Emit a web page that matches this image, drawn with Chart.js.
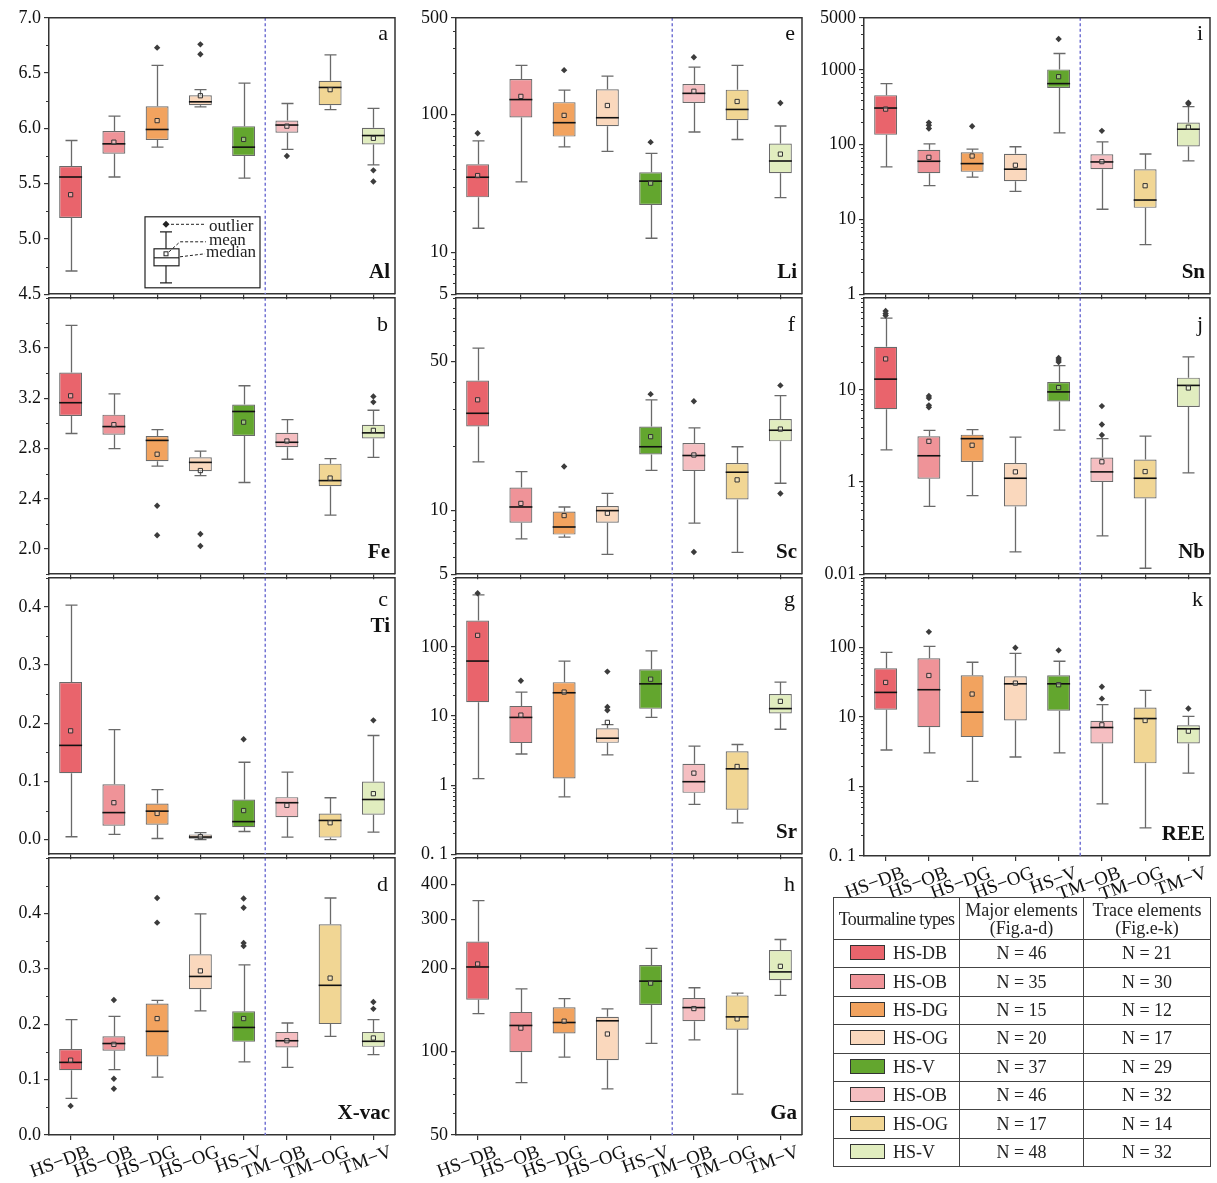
<!DOCTYPE html>
<html>
<head>
<meta charset="utf-8">
<title>Tourmaline box plots</title>
<script src="https://cdn.jsdelivr.net/npm/chart.js@4.4.1/dist/chart.umd.min.js"></script>
<style>
  body { margin: 0; background: #fff; }
  #page { position: relative; width: 1217px; height: 1183px; overflow: hidden; background: #fff; }
  #page canvas { position: absolute; }
  #types { position: absolute; left: 833px; top: 897px; width: 377px; border-collapse: collapse;
           font-family: 'Liberation Serif', serif; font-size: 18px; color: #222; table-layout: fixed; }
  #types td, #types th { border: 1px solid #444; padding: 0; text-align: center; font-weight: normal; }
  #types th { height: 41px; line-height: 18px; font-size: 18px; }
  #types td { height: 27.4px; }
  #types td.type { text-align: left; padding-left: 16px; }
  .sw { display: inline-block; width: 33px; height: 13px; border: 1px solid #333; vertical-align: -1px; margin-right: 8px; }
</style>
</head>
<body>
<div id="page"></div>
<script>
// categories and colours
const categories = ['HS−DB', 'HS−OB', 'HS−DG', 'HS−OG', 'HS−V', 'TM−OB', 'TM−OG', 'TM−V'];
const boxColors = ['#e9646c', '#ef9398', '#f2a35f', '#fad8bd', '#63a62e', '#f5bec1', '#f1d694', '#e1edbf'];

// each box row: [whisker low, Q1, median, Q3, whisker high]
const alBox = [[4.71, 5.19, 5.56, 5.66, 5.89], [5.56, 5.77, 5.86, 5.975, 6.11], [5.83, 5.895, 5.99, 6.20, 6.57],
  [6.195, 6.21, 6.24, 6.30, 6.35], [5.55, 5.75, 5.83, 6.02, 6.41], [5.81, 5.96, 6.03, 6.07, 6.225],
  [6.17, 6.21, 6.37, 6.43, 6.665], [5.67, 5.855, 5.935, 6.005, 6.18]];
const alMean = [5.40, 5.875, 6.07, 6.295, 5.90, 6.02, 6.35, 5.91];
const alOut = [[2, 6.73], [3, 6.76], [3, 6.67], [5, 5.75], [7, 5.62], [7, 5.52]];

const feBox = [[2.92, 3.06, 3.165, 3.405, 3.78], [2.80, 2.91, 2.975, 3.07, 3.235], [2.66, 2.70, 2.865, 2.90, 2.95],
  [2.585, 2.62, 2.69, 2.73, 2.78], [2.53, 2.90, 3.095, 3.15, 3.30], [2.715, 2.81, 2.85, 2.925, 3.03],
  [2.27, 2.50, 2.545, 2.68, 2.72], [2.73, 2.88, 2.925, 2.99, 3.105]];
const feMean = [3.22, 2.99, 2.755, 2.625, 3.01, 2.86, 2.565, 2.945];
const feOut = [[2, 2.345], [2, 2.11], [3, 2.12], [3, 2.025], [7, 3.215], [7, 3.17]];

const tiBox = [[0.005, 0.114, 0.162, 0.271, 0.403], [0.009, 0.024, 0.0465, 0.095, 0.189], [0.002, 0.0255, 0.049, 0.062, 0.086],
  [0.0, 0.0015, 0.0045, 0.009, 0.012], [0.014, 0.0215, 0.031, 0.069, 0.133], [0.0045, 0.0385, 0.0635, 0.073, 0.116],
  [0.0, 0.0035, 0.033, 0.045, 0.072], [0.013, 0.043, 0.069, 0.10, 0.179]];
const tiMean = [0.187, 0.0635, 0.045, 0.005, 0.05, 0.059, 0.029, 0.079];
const tiOut = [[4, 0.1725], [7, 0.205]];

const xvBox = [[0.066, 0.117, 0.131, 0.155, 0.208], [0.118, 0.152, 0.165, 0.178, 0.214], [0.1045, 0.1415, 0.187, 0.237, 0.243],
  [0.224, 0.263, 0.286, 0.326, 0.399], [0.132, 0.168, 0.194, 0.223, 0.307], [0.122, 0.158, 0.17, 0.186, 0.202],
  [0.178, 0.20, 0.27, 0.38, 0.4275], [0.145, 0.159, 0.169, 0.186, 0.208]];
const xvMean = [0.135, 0.1635, 0.21, 0.296, 0.21, 0.17, 0.283, 0.175];
const xvOut = [[0, 0.0525], [1, 0.2435], [1, 0.1015], [1, 0.0835], [2, 0.4275], [2, 0.383],
  [4, 0.4265], [4, 0.41], [4, 0.3465], [4, 0.341], [7, 0.24], [7, 0.2275]];

const liBox = [[15.0, 25.1, 35.1, 43.6, 64.4], [32.5, 95, 128, 180, 226], [58.3, 69.1, 87.1, 122.6, 150],
  [54, 82, 94.6, 152, 189.5], [12.7, 22.1, 32.9, 38.1, 52.2], [74.6, 121, 142, 166, 220],
  [65.8, 90.6, 108.6, 151, 226], [25, 37.5, 46, 61.5, 82.4]];
const liMean = [36.1, 135, 98.4, 116, 31.8, 147, 124, 51.6];
const liOut = [[0, 73.1], [2, 209], [4, 63], [5, 259], [7, 121]];

const scBox = [[16.9, 24.8, 28.6, 40.8, 57.9], [7.34, 8.74, 10.36, 12.8, 15.2], [7.47, 7.68, 8.34, 9.86, 10.36],
  [6.2, 8.73, 9.96, 10.47, 12.0], [15.4, 18.3, 19.9, 24.8, 33.1], [8.7, 15.3, 18.1, 20.7, 24.4],
  [6.34, 11.25, 15.1, 16.7, 19.9], [13.4, 21.1, 23.8, 26.9, 34.6]];
const scMean = [33.1, 10.77, 9.44, 9.68, 22.2, 18.2, 13.9, 24.1];
const scOut = [[2, 16.06], [4, 35.2], [5, 32.6], [5, 6.36], [7, 38.7], [7, 12.0]];

const srBox = [[1.24, 15.8, 62.4, 241, 567], [2.82, 4.05, 9.54, 14.0, 22.2], [0.676, 1.25, 21.7, 30.9, 62.4],
  [2.73, 4.09, 4.77, 6.64, 7.49], [9.55, 12.7, 29.2, 47.4, 87.7], [0.526, 0.772, 1.12, 2.03, 3.67],
  [0.284, 0.44, 1.72, 3.08, 3.87], [6.43, 10.9, 12.8, 20.8, 30.9]];
const srMean = [147, 10.3, 22.2, 8.09, 34.1, 1.49, 1.86, 16.3];
const srOut = [[0, 599], [1, 32.3], [3, 43.9], [3, 13.5], [3, 12.1]];

const gaBox = [[137.1, 153.9, 201.9, 249.3, 350.5], [77.3, 99.4, 124.2, 139, 168.4], [95.4, 116.3, 127.3, 144.5, 155.2],
  [73.3, 93.1, 129.1, 133.4, 142.5], [107.1, 147.2, 179.5, 205.3, 235.5], [110.1, 128.7, 144.1, 156, 169.9],
  [70.2, 119.9, 133.4, 159.4, 162.5], [159.4, 181, 193.8, 232.3, 253.6]];
const gaMean = [207, 121.5, 128.7, 115.7, 176.5, 142.9, 131.2, 203];
const gaOut = [];

const snBox = [[50.5, 135.7, 310, 461, 658], [28.3, 41.6, 60.1, 85.8, 103], [36.8, 43.4, 55.9, 79.1, 87.6],
  [23.8, 32.6, 47.1, 75.9, 94], [144, 577, 658, 1020, 1663], [13.7, 47.1, 58.9, 74.4, 109.6],
  [4.61, 14.3, 18.2, 47.1, 75.2], [60.7, 95, 161.4, 198, 323]];
const snMean = [300, 67.9, 70.7, 53.2, 815, 59.5, 28.3, 171.6];
const snOut = [[1, 198], [1, 182], [1, 165], [2, 177], [4, 2606], [5, 153.4], [7, 365], [7, 354]];

const nbBox = [[2.24, 6.16, 13.1, 29.4, 60.1], [0.544, 1.086, 1.93, 3.14, 3.64], [0.714, 1.65, 2.96, 3.27, 3.7],
  [0.175, 0.544, 1.1, 1.61, 3.08], [3.67, 7.5, 9.52, 12.2, 18.4], [0.26, 1.0, 1.29, 1.85, 2.96],
  [0.116, 0.663, 1.1, 1.76, 3.16], [1.26, 6.52, 11.2, 13.6, 22.9]];
const nbMean = [21.7, 2.77, 2.51, 1.29, 10.6, 1.66, 1.3, 10.5];
const nbOut = [[0, 72], [0, 67.4], [0, 64.2], [1, 8.62], [1, 8.15], [1, 6.8], [1, 6.47],
  [4, 22.2], [4, 21.1], [4, 20.1], [5, 6.68], [5, 4.22], [5, 3.24]];

const reeBox = [[3.34, 12.7, 22.5, 50.1, 84.8], [3.03, 7.11, 24.6, 69.6, 103], [1.18, 5.12, 11.7, 39.8, 61.1],
  [2.65, 8.86, 29.9, 38.5, 82], [3.03, 12.3, 29.9, 39.8, 63.1], [0.56, 4.16, 7.04, 8.77, 15.0],
  [0.254, 2.15, 9.47, 13.6, 24.0], [1.55, 4.16, 6.74, 7.6, 10.2]];
const reeMean = [31.3, 39.4, 21.3, 30.6, 29, 7.69, 8.87, 6.24];
const reeOut = [[1, 167], [3, 98.9], [4, 90.6], [5, 27.1], [5, 18.3], [7, 13.2]];

// y tick values and labels
const alTicks = [4.5, 5.0, 5.5, 6.0, 6.5, 7.0], alLabels = ['4.5', '5.0', '5.5', '6.0', '6.5', '7.0'];
const feTicks = [2.0, 2.4, 2.8, 3.2, 3.6], feLabels = ['2.0', '2.4', '2.8', '3.2', '3.6'];
const tiTicks = [0, 0.1, 0.2, 0.3, 0.4], tiLabels = ['0.0', '0.1', '0.2', '0.3', '0.4'];
const xvTicks = [0, 0.1, 0.2, 0.3, 0.4], xvLabels = ['0.0', '0.1', '0.2', '0.3', '0.4'];
const liTicks = [5, 10, 100, 500], liLabels = ['5', '10', '100', '500'];
const scTicks = [5, 10, 50], scLabels = ['5', '10', '50'];
const srTicks = [0.1, 1, 10, 100], srLabels = ['0. 1', '1', '10', '100'];
const gaTicks = [50, 100, 200, 300, 400], gaLabels = ['50', '100', '200', '300', '400'];
const snTicks = [1, 10, 100, 1000, 5000], snLabels = ['1', '10', '100', '1000', '5000'];
const nbTicks = [0.1, 1, 10], nbLabels = ['0.01', '1', '10'];
const reeTicks = [0.1, 1, 10, 100], reeLabels = ['0. 1', '1', '10', '100'];

// legend table
const tableTypes = ['HS-DB', 'HS-OB', 'HS-DG', 'HS-OG', 'HS-V', 'HS-OB', 'HS-OG', 'HS-V'];
const majorN = [46, 35, 15, 20, 37, 46, 17, 48];
const traceN = [21, 30, 12, 17, 29, 32, 14, 32];

// layout
const COLS = [{ left: 49, right: 395, axis: 49 }, { left: 456, right: 802, axis: 56 }, { left: 864, right: 1210, axis: 56 }];
const ROW_TOP = [16, 296, 576, 856];
const ROW_BOTTOM = [296, 576, 856, 1135];
const LETTER_DY = [22, 33, 28, 33];
const PAD_TOP = 12, PAD_RIGHT = 6;
const SERIF = "'Liberation Serif', 'Times New Roman', serif";
const INK = '#333';

const panels = [
  { letter: 'a', name: 'Al', col: 0, row: 0, type: 'linear', min: 4.5, max: 7.0, minor: 0.25, ticks: alTicks, labels: alLabels, box: alBox, mean: alMean, out: alOut, inset: true },
  { letter: 'b', name: 'Fe', col: 0, row: 1, type: 'linear', min: 1.8, max: 4.0, minor: 0.2, ticks: feTicks, labels: feLabels, box: feBox, mean: feMean, out: feOut },
  { letter: 'c', name: 'Ti', col: 0, row: 2, type: 'linear', min: -0.025, max: 0.45, minor: 0.05, ticks: tiTicks, labels: tiLabels, box: tiBox, mean: tiMean, out: tiOut, nameTop: true },
  { letter: 'd', name: 'X-vac', col: 0, row: 3, type: 'linear', min: 0, max: 0.5, minor: 0.05, ticks: xvTicks, labels: xvLabels, box: xvBox, mean: xvMean, out: xvOut, xLabels: true },
  { letter: 'e', name: 'Li', col: 1, row: 0, type: 'logarithmic', min: 5, max: 500, ticks: liTicks, labels: liLabels, box: liBox, mean: liMean, out: liOut },
  { letter: 'f', name: 'Sc', col: 1, row: 1, type: 'logarithmic', min: 5, max: 100, ticks: scTicks, labels: scLabels, box: scBox, mean: scMean, out: scOut },
  { letter: 'g', name: 'Sr', col: 1, row: 2, type: 'logarithmic', min: 0.1, max: 1000, ticks: srTicks, labels: srLabels, box: srBox, mean: srMean, out: srOut },
  { letter: 'h', name: 'Ga', col: 1, row: 3, type: 'logarithmic', min: 50, max: 500, ticks: gaTicks, labels: gaLabels, box: gaBox, mean: gaMean, out: gaOut, xLabels: true },
  { letter: 'i', name: 'Sn', col: 2, row: 0, type: 'logarithmic', min: 1, max: 5000, ticks: snTicks, labels: snLabels, box: snBox, mean: snMean, out: snOut },
  { letter: 'j', name: 'Nb', col: 2, row: 1, type: 'logarithmic', min: 0.1, max: 100, ticks: nbTicks, labels: nbLabels, box: nbBox, mean: nbMean, out: nbOut },
  { letter: 'k', name: 'REE', col: 2, row: 2, type: 'logarithmic', min: 0.1, max: 1000, ticks: reeTicks, labels: reeLabels, box: reeBox, mean: reeMean, out: reeOut, xLabels: true }
];

// minor tick positions
function minorTicks(p) {
  const res = [];
  if (p.type === 'linear') {
    const n0 = Math.ceil(p.min / p.minor - 1e-9), n1 = Math.floor(p.max / p.minor + 1e-9);
    for (let n = n0; n <= n1; n++) {
      const v = +(n * p.minor).toFixed(6);
      if (!p.ticks.some(t => Math.abs(t - v) < 1e-9)) res.push(v);
    }
  } else {
    for (let e = Math.floor(Math.log10(p.min)); e <= Math.ceil(Math.log10(p.max)); e++) {
      for (let m = 1; m <= 9; m++) {
        const v = m * Math.pow(10, e);
        if (v < p.min * 0.999 || v > p.max * 1.001) continue;
        if (!p.ticks.some(t => Math.abs(t - v) / v < 1e-6)) res.push(v);
      }
    }
  }
  return res;
}

// small "outlier / mean / median" key drawn inside panel a
function drawInset(ctx, ca) {
  const L = ca.left + 96, T = ca.top + 199;
  ctx.save();
  ctx.strokeStyle = '#222'; ctx.lineWidth = 1.2;
  ctx.strokeRect(L, T, 115, 71);
  const cx = L + 21;
  ctx.beginPath();
  ctx.moveTo(cx - 6, T + 15); ctx.lineTo(cx + 6, T + 15);
  ctx.moveTo(cx, T + 15); ctx.lineTo(cx, T + 32);
  ctx.moveTo(cx, T + 49); ctx.lineTo(cx, T + 66);
  ctx.moveTo(cx - 6, T + 66); ctx.lineTo(cx + 6, T + 66);
  ctx.stroke();
  ctx.strokeRect(L + 9, T + 32, 25, 17);
  ctx.beginPath(); ctx.moveTo(L + 9, T + 41); ctx.lineTo(L + 34, T + 41); ctx.stroke();
  ctx.lineWidth = 1; ctx.strokeRect(cx - 2, T + 35, 4, 4);
  ctx.fillStyle = '#222';
  ctx.beginPath();
  ctx.moveTo(cx, T + 4); ctx.lineTo(cx + 3.5, T + 7.5); ctx.lineTo(cx, T + 11); ctx.lineTo(cx - 3.5, T + 7.5);
  ctx.closePath(); ctx.fill();
  ctx.setLineDash([3, 2]); ctx.lineWidth = 1;
  ctx.beginPath();
  ctx.moveTo(cx + 5, T + 7.5); ctx.lineTo(L + 60, T + 7.5);
  ctx.moveTo(cx + 3, T + 35); ctx.lineTo(L + 35, T + 25); ctx.lineTo(L + 61, T + 25);
  ctx.moveTo(L + 35, T + 40); ctx.lineTo(L + 60, T + 37);
  ctx.stroke();
  ctx.setLineDash([]);
  ctx.font = '17px ' + SERIF; ctx.textAlign = 'left'; ctx.textBaseline = 'alphabetic';
  ctx.fillText('outlier', L + 64, T + 14);
  ctx.fillText('mean', L + 64, T + 28);
  ctx.fillText('median', L + 61, T + 40);
  ctx.restore();
}

function makePlugin(p) {
  return {
    id: 'boxplot',
    beforeDatasetsDraw(chart) {
      const { ctx, chartArea: ca, scales: { x, y } } = chart;
      ctx.save();
      // dashed separator between HS and TM groups
      const xs = x.getPixelForValue(4.5);
      ctx.strokeStyle = '#7474d4'; ctx.lineWidth = 1.5; ctx.setLineDash([3, 2.5]);
      ctx.beginPath(); ctx.moveTo(xs, ca.top); ctx.lineTo(xs, ca.bottom); ctx.stroke();
      ctx.setLineDash([]);
      // whiskers
      ctx.strokeStyle = '#6a6a6a'; ctx.lineWidth = 1.3;
      p.box.forEach((b, i) => {
        const cx = Math.round(x.getPixelForValue(i)) + 0.5;
        const yLo = y.getPixelForValue(b[0]), yQ1 = y.getPixelForValue(b[1]);
        const yQ3 = y.getPixelForValue(b[3]), yHi = y.getPixelForValue(b[4]);
        ctx.beginPath();
        ctx.moveTo(cx, yQ1); ctx.lineTo(cx, yLo);
        ctx.moveTo(cx - 6, yLo); ctx.lineTo(cx + 6, yLo);
        ctx.moveTo(cx, yQ3); ctx.lineTo(cx, yHi);
        ctx.moveTo(cx - 6, yHi); ctx.lineTo(cx + 6, yHi);
        ctx.stroke();
      });
      ctx.restore();
    },
    afterDatasetDraw(chart, args) {
      if (args.index !== 0) return;
      const { ctx, scales: { y } } = chart;
      const meta = chart.getDatasetMeta(0);
      ctx.save();
      ctx.strokeStyle = '#111'; ctx.lineWidth = 1.6;
      p.box.forEach((b, i) => {
        const bar = meta.data[i];
        const ym = y.getPixelForValue(b[2]);
        ctx.beginPath();
        ctx.moveTo(bar.x - bar.width / 2, ym); ctx.lineTo(bar.x + bar.width / 2, ym);
        ctx.stroke();
      });
      ctx.restore();
    },
    afterDraw(chart) {
      const { ctx, chartArea: ca, scales: { y } } = chart;
      ctx.save();
      // top and right frame
      ctx.strokeStyle = INK; ctx.lineWidth = 1.5;
      ctx.beginPath();
      ctx.moveTo(ca.left, ca.top); ctx.lineTo(ca.right, ca.top); ctx.lineTo(ca.right, ca.bottom);
      ctx.stroke();
      // minor ticks
      ctx.lineWidth = 1;
      ctx.beginPath();
      minorTicks(p).forEach(v => {
        const py = Math.round(y.getPixelForValue(v)) + 0.5;
        ctx.moveTo(ca.left, py); ctx.lineTo(ca.left - 3, py);
      });
      ctx.stroke();
      // panel letter and element name
      ctx.fillStyle = '#111';
      ctx.textAlign = 'right'; ctx.textBaseline = 'alphabetic';
      ctx.font = '22px ' + SERIF;
      ctx.fillText(p.letter, ca.right - 7, ca.top + LETTER_DY[p.row]);
      ctx.font = 'bold 21px ' + SERIF;
      if (p.nameTop) ctx.fillText(p.name, ca.right - 5, ca.top + 54);
      else ctx.fillText(p.name, ca.right - 5, ca.bottom - 16);
      if (p.inset) drawInset(ctx, ca);
      ctx.restore();
    }
  };
}

const page = document.getElementById('page');

panels.forEach(p => {
  const c = COLS[p.col];
  const plotH = ROW_BOTTOM[p.row] - ROW_TOP[p.row];
  const xh = p.xLabels ? 48 : 12;
  const canvas = document.createElement('canvas');
  canvas.width = c.axis + (c.right - c.left) + PAD_RIGHT;
  canvas.height = PAD_TOP + plotH + xh;
  canvas.style.left = (c.left - c.axis) + 'px';
  canvas.style.top = (ROW_TOP[p.row] - PAD_TOP) + 'px';
  page.appendChild(canvas);

  new Chart(canvas.getContext('2d'), {
    type: 'bar',
    data: {
      labels: categories,
      datasets: [
        {
          type: 'bar',
          data: p.box.map(b => [b[1], b[3]]),
          backgroundColor: boxColors,
          borderColor: '#6a6a6a',
          borderWidth: 1.2,
          borderSkipped: false,
          barPercentage: 0.53,
          categoryPercentage: 1,
          order: 3
        },
        {
          type: 'line',
          data: p.out.map(([i, v]) => ({ x: categories[i], y: v })),
          showLine: false,
          pointStyle: 'rectRot',
          pointRadius: 3.2,
          pointBackgroundColor: '#3c3c3c',
          pointBorderColor: '#3c3c3c',
          pointBorderWidth: 0,
          order: 2
        },
        {
          type: 'line',
          data: p.mean,
          showLine: false,
          pointStyle: 'rect',
          pointRadius: 3,
          pointBackgroundColor: 'rgba(255,255,255,0.35)',
          pointBorderColor: '#333',
          pointBorderWidth: 1,
          order: 1
        }
      ]
    },
    options: {
      responsive: false,
      animation: false,
      events: [],
      layout: { padding: { top: PAD_TOP, right: PAD_RIGHT, left: 0, bottom: 0 } },
      plugins: { legend: { display: false }, tooltip: { enabled: false } },
      scales: {
        x: {
          type: 'category',
          offset: true,
          grid: { display: true, drawOnChartArea: false, drawTicks: true, tickLength: 5, offset: false, color: INK, lineWidth: 1.2 },
          border: { display: true, color: INK, width: 1.5 },
          ticks: {
            display: !!p.xLabels,
            autoSkip: false,
            minRotation: 20,
            maxRotation: 20,
            labelOffset: 18,
            padding: 1,
            color: '#111',
            font: { family: SERIF, size: 19 }
          },
          afterFit: s => { s.height = xh; }
        },
        y: {
          type: p.type,
          position: 'left',
          min: p.min,
          max: p.max,
          grid: { display: true, drawOnChartArea: false, drawTicks: true, tickLength: 5, color: INK, lineWidth: 1.2 },
          border: { display: true, color: INK, width: 1.5 },
          afterBuildTicks: s => { s.ticks = p.ticks.map(v => ({ value: v })); },
          ticks: {
            autoSkip: false,
            padding: 3,
            color: '#111',
            font: { family: SERIF, size: 18 },
            callback: v => { const k = p.ticks.indexOf(v); return k >= 0 ? p.labels[k] : ''; }
          },
          afterFit: s => { s.width = c.axis; }
        }
      }
    },
    plugins: [makePlugin(p)]
  });
});

// legend table
const table = document.createElement('table');
table.id = 'types';
let html = '<colgroup><col style="width:126px"><col style="width:124px"><col style="width:127px"></colgroup>';
html += '<tr><th style="letter-spacing:-0.6px">Tourmaline types</th><th>Major elements<br>(Fig.a-d)</th><th>Trace elements<br>(Fig.e-k)</th></tr>';
tableTypes.forEach((t, i) => {
  html += '<tr><td class="type"><span class="sw" style="background:' + boxColors[i] + '"></span>' + t + '</td>' +
    '<td>N = ' + majorN[i] + '</td><td>N = ' + traceN[i] + '</td></tr>';
});
table.innerHTML = html;
page.appendChild(table);
</script>
</body>
</html>
